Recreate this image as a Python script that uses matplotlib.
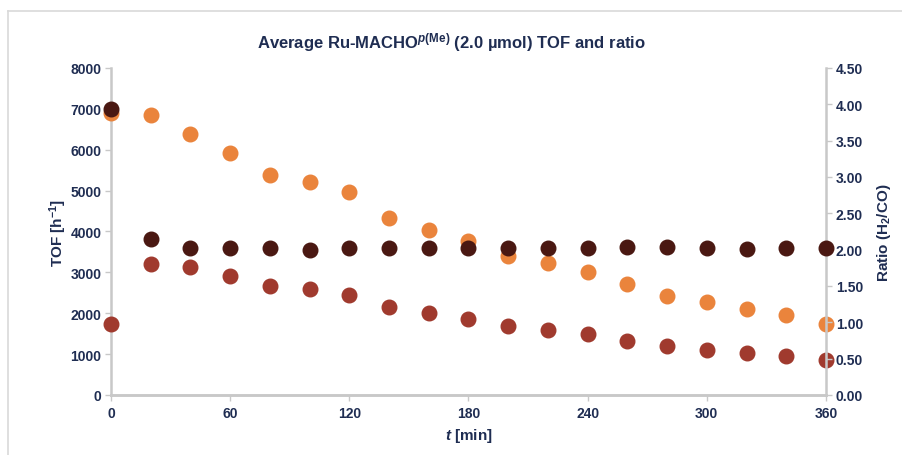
"""Average Ru-MACHO p(Me) TOF and H2/CO ratio over time."""

import matplotlib
matplotlib.use("Agg")
import matplotlib.pyplot as plt
from matplotlib.lines import Line2D

# time points, min
t_min = [0, 20, 40, 60, 80, 100, 120, 140, 160, 180, 200, 220, 240, 260, 280, 300, 320, 340, 360]

# TOF series, h^-1 (left axis)
tof_orange = [6900, 6850, 6380, 5910, 5390, 5200, 4960, 4340, 4030, 3760,
              3395, 3222, 3020, 2710, 2430, 2270, 2100, 1952, 1740]
tof_red = [1740, 3197, 3131, 2904, 2667, 2593, 2446, 2153, 2006, 1859,
           1683, 1590, 1492, 1321, 1199, 1108, 1035, 954, 850]

# H2/CO ratio (right axis)
ratio = [3.94, 2.14, 2.02, 2.02, 2.02, 2.00, 2.02, 2.02, 2.02, 2.02,
         2.02, 2.02, 2.02, 2.03, 2.03, 2.02, 2.01, 2.02, 2.02]

x_ticks = [0, 60, 120, 180, 240, 300, 360]
left_ticks = [0, 1000, 2000, 3000, 4000, 5000, 6000, 7000, 8000]
right_ticks = [0.0, 0.5, 1.0, 1.5, 2.0, 2.5, 3.0, 3.5, 4.0, 4.5]

NAVY = "#1f2d52"
GREY = "#c8c8c8"

plt.rcParams["font.family"] = ["Liberation Sans", "DejaVu Sans"]
plt.rcParams["font.weight"] = "bold"
plt.rcParams["axes.labelweight"] = "bold"
plt.rcParams["mathtext.fontset"] = "custom"
plt.rcParams["mathtext.rm"] = "Liberation Sans:bold"
plt.rcParams["mathtext.bf"] = "Liberation Sans:bold"
plt.rcParams["mathtext.it"] = "Liberation Sans:bold:italic"
plt.rcParams["mathtext.default"] = "rm"

fig = plt.figure(figsize=(9.03, 4.56), dpi=100)
ax = fig.add_axes([0.1229, 0.1316, 0.7918, 0.7171])
ax2 = ax.twinx()

ax.scatter(t_min, tof_orange, s=110, color="#ea843c", zorder=3, clip_on=False)
ax.scatter(t_min, tof_red, s=110, color="#a03a2e", zorder=3, clip_on=False)
ax2.scatter(t_min, ratio, s=110, color="#4a1812", zorder=3, clip_on=False)

ax.set_xlim(0, 360)
ax.set_ylim(0, 8000)
ax2.set_ylim(0, 4.5)
ax.set_xticks(x_ticks)
ax.set_yticks(left_ticks)
ax2.set_yticks(right_ticks)
ax2.set_yticklabels([f"{v:.2f}" for v in right_ticks])

for a in (ax, ax2):
    a.spines["top"].set_visible(False)
    for side in ("left", "right", "bottom"):
        a.spines[side].set_color(GREY)
        a.spines[side].set_linewidth(1.8)
    a.tick_params(colors=GREY, labelcolor=NAVY, labelsize=10, length=4, width=1)
ax.spines["right"].set_visible(False)
ax2.spines["left"].set_visible(False)
ax.tick_params(axis="x", pad=4)
ax.tick_params(axis="y", pad=3)
ax2.tick_params(axis="y", pad=3)

ax.set_ylabel("TOF [h$^{-1}$]", color=NAVY, fontsize=11, labelpad=1)
ax2.set_ylabel("Ratio (H$_2$/CO)", color=NAVY, fontsize=11, labelpad=9)
ax.set_xlabel("$\\mathit{t}$ [min]", color=NAVY, fontsize=11, labelpad=4)
fig.text(0.5, 0.907, "Average Ru-MACHO$^{\\mathit{p}\\mathrm{(Me)}}$ (2.0 µmol) TOF and ratio",
         ha="center", va="center", color=NAVY, fontsize=12, fontweight="bold")

# light frame of the chart area (clipped by the image edge)
fig.add_artist(Line2D([0.0094, 1.0], [0.9726, 0.9726], transform=fig.transFigure,
                      color="#d9d9d9", lw=1.2))
fig.add_artist(Line2D([0.0094, 0.0094], [0.0, 0.9726], transform=fig.transFigure,
                      color="#d9d9d9", lw=1.2))

fig.savefig("out.png", dpi=100)
